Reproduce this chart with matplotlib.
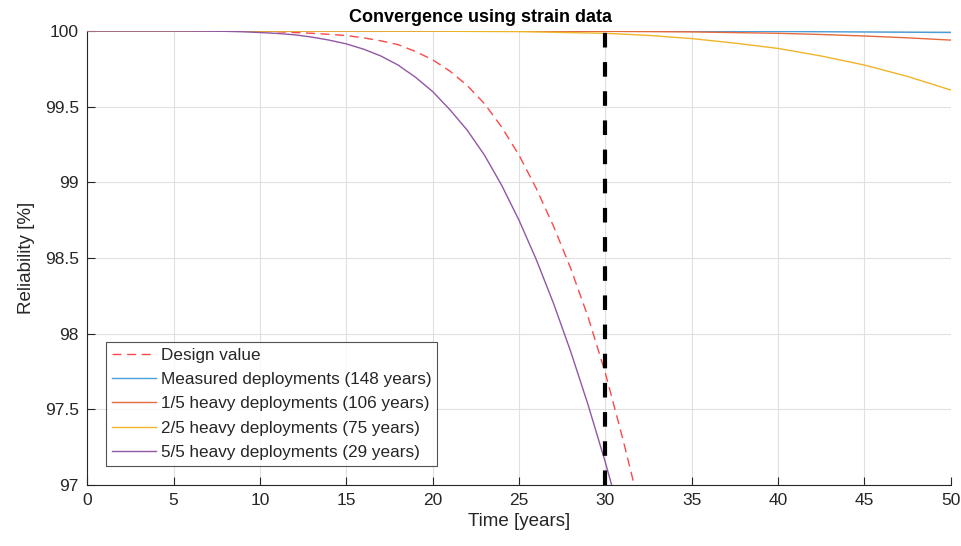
import matplotlib
matplotlib.use("Agg")
import matplotlib.pyplot as plt
import numpy as np

plt.rcParams['font.family'] = ['Liberation Sans', 'DejaVu Sans']

# Reliability [%]
design_t = [0, 5, 10, 11, 12, 13, 14, 15, 16, 17, 18, 19, 20, 21, 22, 23, 24, 25, 26, 27, 28, 29, 30, 31, 32, 33]
design_r = [100, 100, 99.998, 99.995, 99.99, 99.985, 99.978, 99.97, 99.955, 99.935, 99.91, 99.865, 99.81,
            99.735, 99.64, 99.52, 99.365, 99.18, 98.96, 98.71, 98.43, 98.11, 97.74, 97.31, 96.85, 96.35]

measured_t = [0, 10, 20, 30, 40, 50]
measured_r = [100, 100, 100, 99.999, 99.997, 99.99]

heavy1_t = [0, 10, 20, 30, 35, 40, 42.5, 45, 47.5, 50]
heavy1_r = [100, 100, 100, 99.998, 99.994, 99.985, 99.977, 99.967, 99.955, 99.94]

heavy2_t = [0, 10, 20, 25, 30, 32.5, 35, 37.5, 40, 42.5, 45, 47.5, 50]
heavy2_r = [100, 100, 99.999, 99.996, 99.985, 99.971, 99.95, 99.92, 99.885, 99.835, 99.775, 99.70, 99.61]

heavy5_t = [0, 5, 8, 9, 10, 11, 12, 13, 14, 15, 16, 17, 18, 19, 20, 21, 22, 23, 24, 25, 26, 27, 28, 29, 30, 31]
heavy5_r = [100, 100, 99.998, 99.995, 99.99, 99.984, 99.975, 99.96, 99.94, 99.915, 99.88, 99.835, 99.775,
            99.695, 99.60, 99.48, 99.345, 99.18, 98.98, 98.75, 98.49, 98.20, 97.88, 97.53, 97.15, 96.74]

labels = ['Design value', 'Measured deployments (148 years)', '1/5 heavy deployments (106 years)',
          '2/5 heavy deployments (75 years)', '5/5 heavy deployments (29 years)']
design_life = 30

axcol = '#262626'

fig = plt.figure(figsize=(9.61, 5.46), dpi=100)
ax = fig.add_axes([0.0908, 0.1117, 0.8985, 0.8315])

ax.plot(design_t, design_r, color='#FF4848', lw=1.0, linestyle=(0, (6.5, 4)), label=labels[0], zorder=3)
ax.plot(measured_t, measured_r, color='#4A9ED8', lw=1.0, label=labels[1], zorder=3)
ax.plot(heavy1_t, heavy1_r, color='#E56A3E', lw=1.0, label=labels[2], zorder=3)
ax.plot(heavy2_t, heavy2_r, color='#F0B42A', lw=1.0, label=labels[3], zorder=3)
ax.plot(heavy5_t, heavy5_r, color='#9157A5', lw=1.0, label=labels[4], zorder=3)
ax.axvline(design_life, color='black', lw=3, linestyle=(0, (3.5, 3.5)), zorder=4)

ax.set_xlim(0, 50)
ax.set_ylim(97, 100)
ax.set_xticks(np.arange(0, 51, 5))
ax.set_yticks(np.arange(97, 100.01, 0.5))
ax.set_yticklabels(['97', '97.5', '98', '98.5', '99', '99.5', '100'])

ax.grid(True, color='#E0E0E0', lw=0.8)
ax.set_axisbelow(True)
ax.spines['top'].set_visible(False)
ax.spines['right'].set_visible(False)
for s in ['left', 'bottom']:
    ax.spines[s].set_color(axcol)
    ax.spines[s].set_linewidth(0.8)
ax.tick_params(direction='in', length=5.5, width=0.8, color=axcol, labelcolor=axcol,
               labelsize=12.5, pad=6)

ax.set_xlabel('Time [years]', fontsize=13.5, color=axcol, labelpad=3)
ax.set_ylabel('Reliability [%]', fontsize=13.5, color=axcol, labelpad=7)
fig.text(0.5, 0.968, 'Convergence using strain data', ha='center', va='center',
         fontsize=13, fontweight='bold', color='black')

leg = ax.legend(loc='lower left', fontsize=12.3, frameon=True, fancybox=False,
                edgecolor='#262626', borderaxespad=1.1, handlelength=2.6,
                handletextpad=0.25, labelspacing=0.55, borderpad=0.35)
leg.get_frame().set_linewidth(0.8)
for t in leg.get_texts():
    t.set_color(axcol)

fig.savefig('out.png', dpi=100)
